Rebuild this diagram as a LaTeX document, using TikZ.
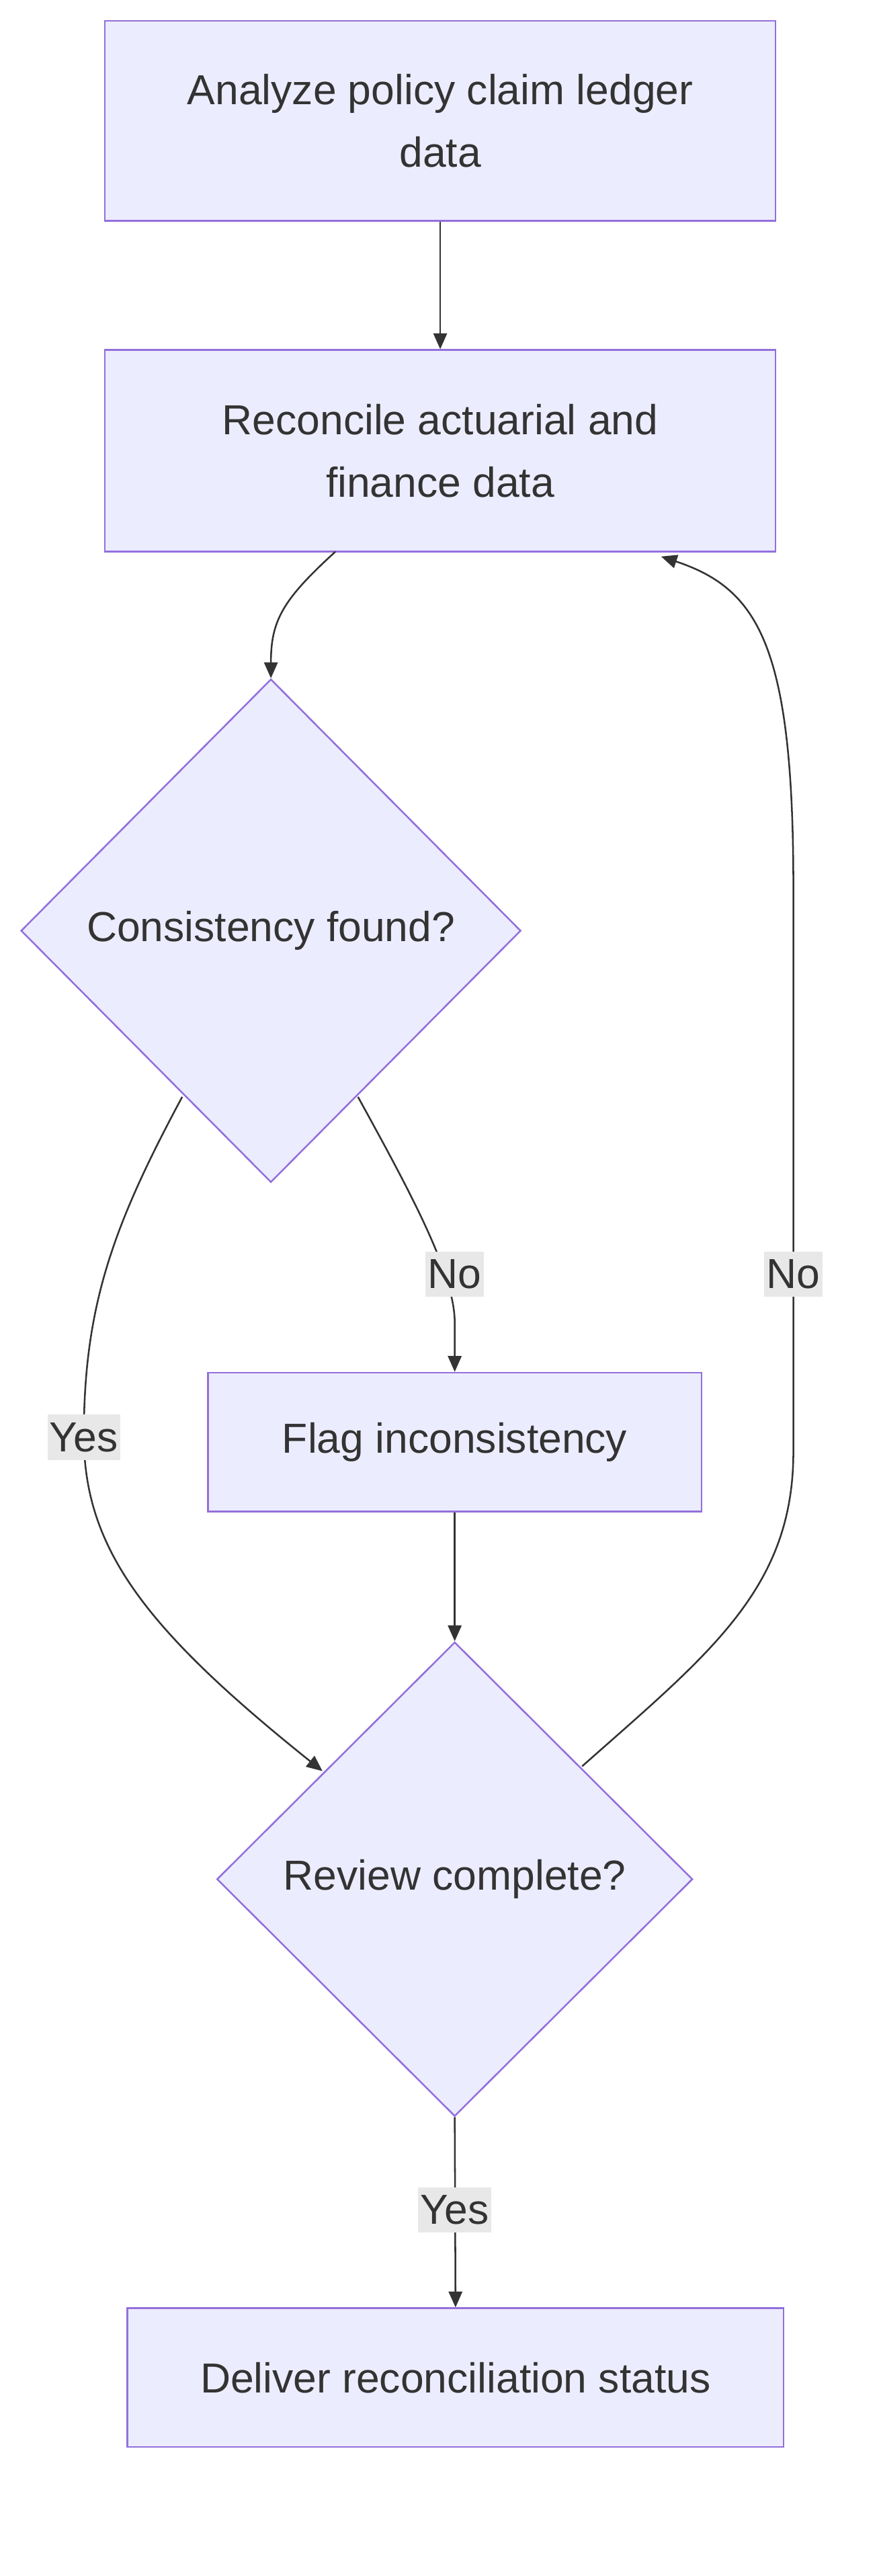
\documentclass[tikz,border=0pt]{standalone}
\usepackage{fontspec}
\setmainfont{Liberation Sans}
\usetikzlibrary{shapes.geometric,arrows.meta}
\definecolor{nfill}{HTML}{ECECFF}
\definecolor{nstroke}{HTML}{9370DB}
\definecolor{ink}{HTML}{333333}
\definecolor{lbg}{HTML}{E8E8E8}
\begin{document}
\begin{tikzpicture}[x=0.05cm,y=-0.05cm,
  every node/.style={font=\fontsize{37}{55}\selectfont, text=ink},
  box/.style={draw=nstroke, fill=nfill, line width=1.5pt, align=center, inner sep=0},
  dia/.style={diamond, draw=nstroke, fill=nfill, line width=1.5pt, inner sep=0, align=center},
  lbl/.style={fill=lbg, inner xsep=2pt, inner ysep=7pt},
  edge/.style={draw=ink, line width=1.5pt, -{Triangle[length=14pt,width=12pt]}}]
\useasboundingbox (0,0) rectangle (545,1597);
\node[box, minimum width=416*0.05cm, minimum height=124*0.05cm] (b1) at (273,75) {Analyze policy claim ledger\\data};
\node[box, minimum width=416*0.05cm, minimum height=125*0.05cm] (b2) at (273,279.5) {Reconcile actuarial and\\finance data};
\node[dia, minimum width=310*0.05cm, minimum height=312*0.05cm] (d1) at (168,577) {Consistency found?};
\node[box, minimum width=306*0.05cm, minimum height=86*0.05cm] (b3) at (282,894) {Flag inconsistency};
\node[dia, minimum width=295*0.05cm, minimum height=294*0.05cm] (d2) at (282,1165) {Review complete?};
\node[box, minimum width=407*0.05cm, minimum height=86*0.05cm] (b4) at (282.5,1474) {Deliver reconciliation status};
\coordinate (s1) at (208,342);
\coordinate (s2) at (222,680);
\coordinate (s3) at (113,680);
\coordinate (e3) at (200,1098);
\coordinate (s4) at (361,1095);
\coordinate (e4) at (410,345);
\draw[edge] (b1) -- (b2);
\draw[edge] (s1) .. controls (175,372) and (168,385) .. (d1.north);
\draw[edge] (s2) .. controls (255,740) and (282,790) .. (282,820) -- (b3.north);
\draw[edge] (s3) .. controls (70,760) and (52,810) .. (52,890) .. controls (52,960) and (90,1010) .. (e3);
\draw[edge] (b3) -- (d2.north);
\draw[edge] (s4) .. controls (440,1025) and (492,985) .. (492,900) -- (492,550) .. controls (492,400) and (470,365) .. (e4);
\draw[edge] (d2.south) -- (b4.north);
\node[lbl] (l1) at (282,790) {No};
\node[lbl] (l2) at (52,891) {Yes};
\node[lbl] (l3) at (492,790) {No};
\node[lbl] (l4) at (282,1370) {Yes};
\end{tikzpicture}
\end{document}
